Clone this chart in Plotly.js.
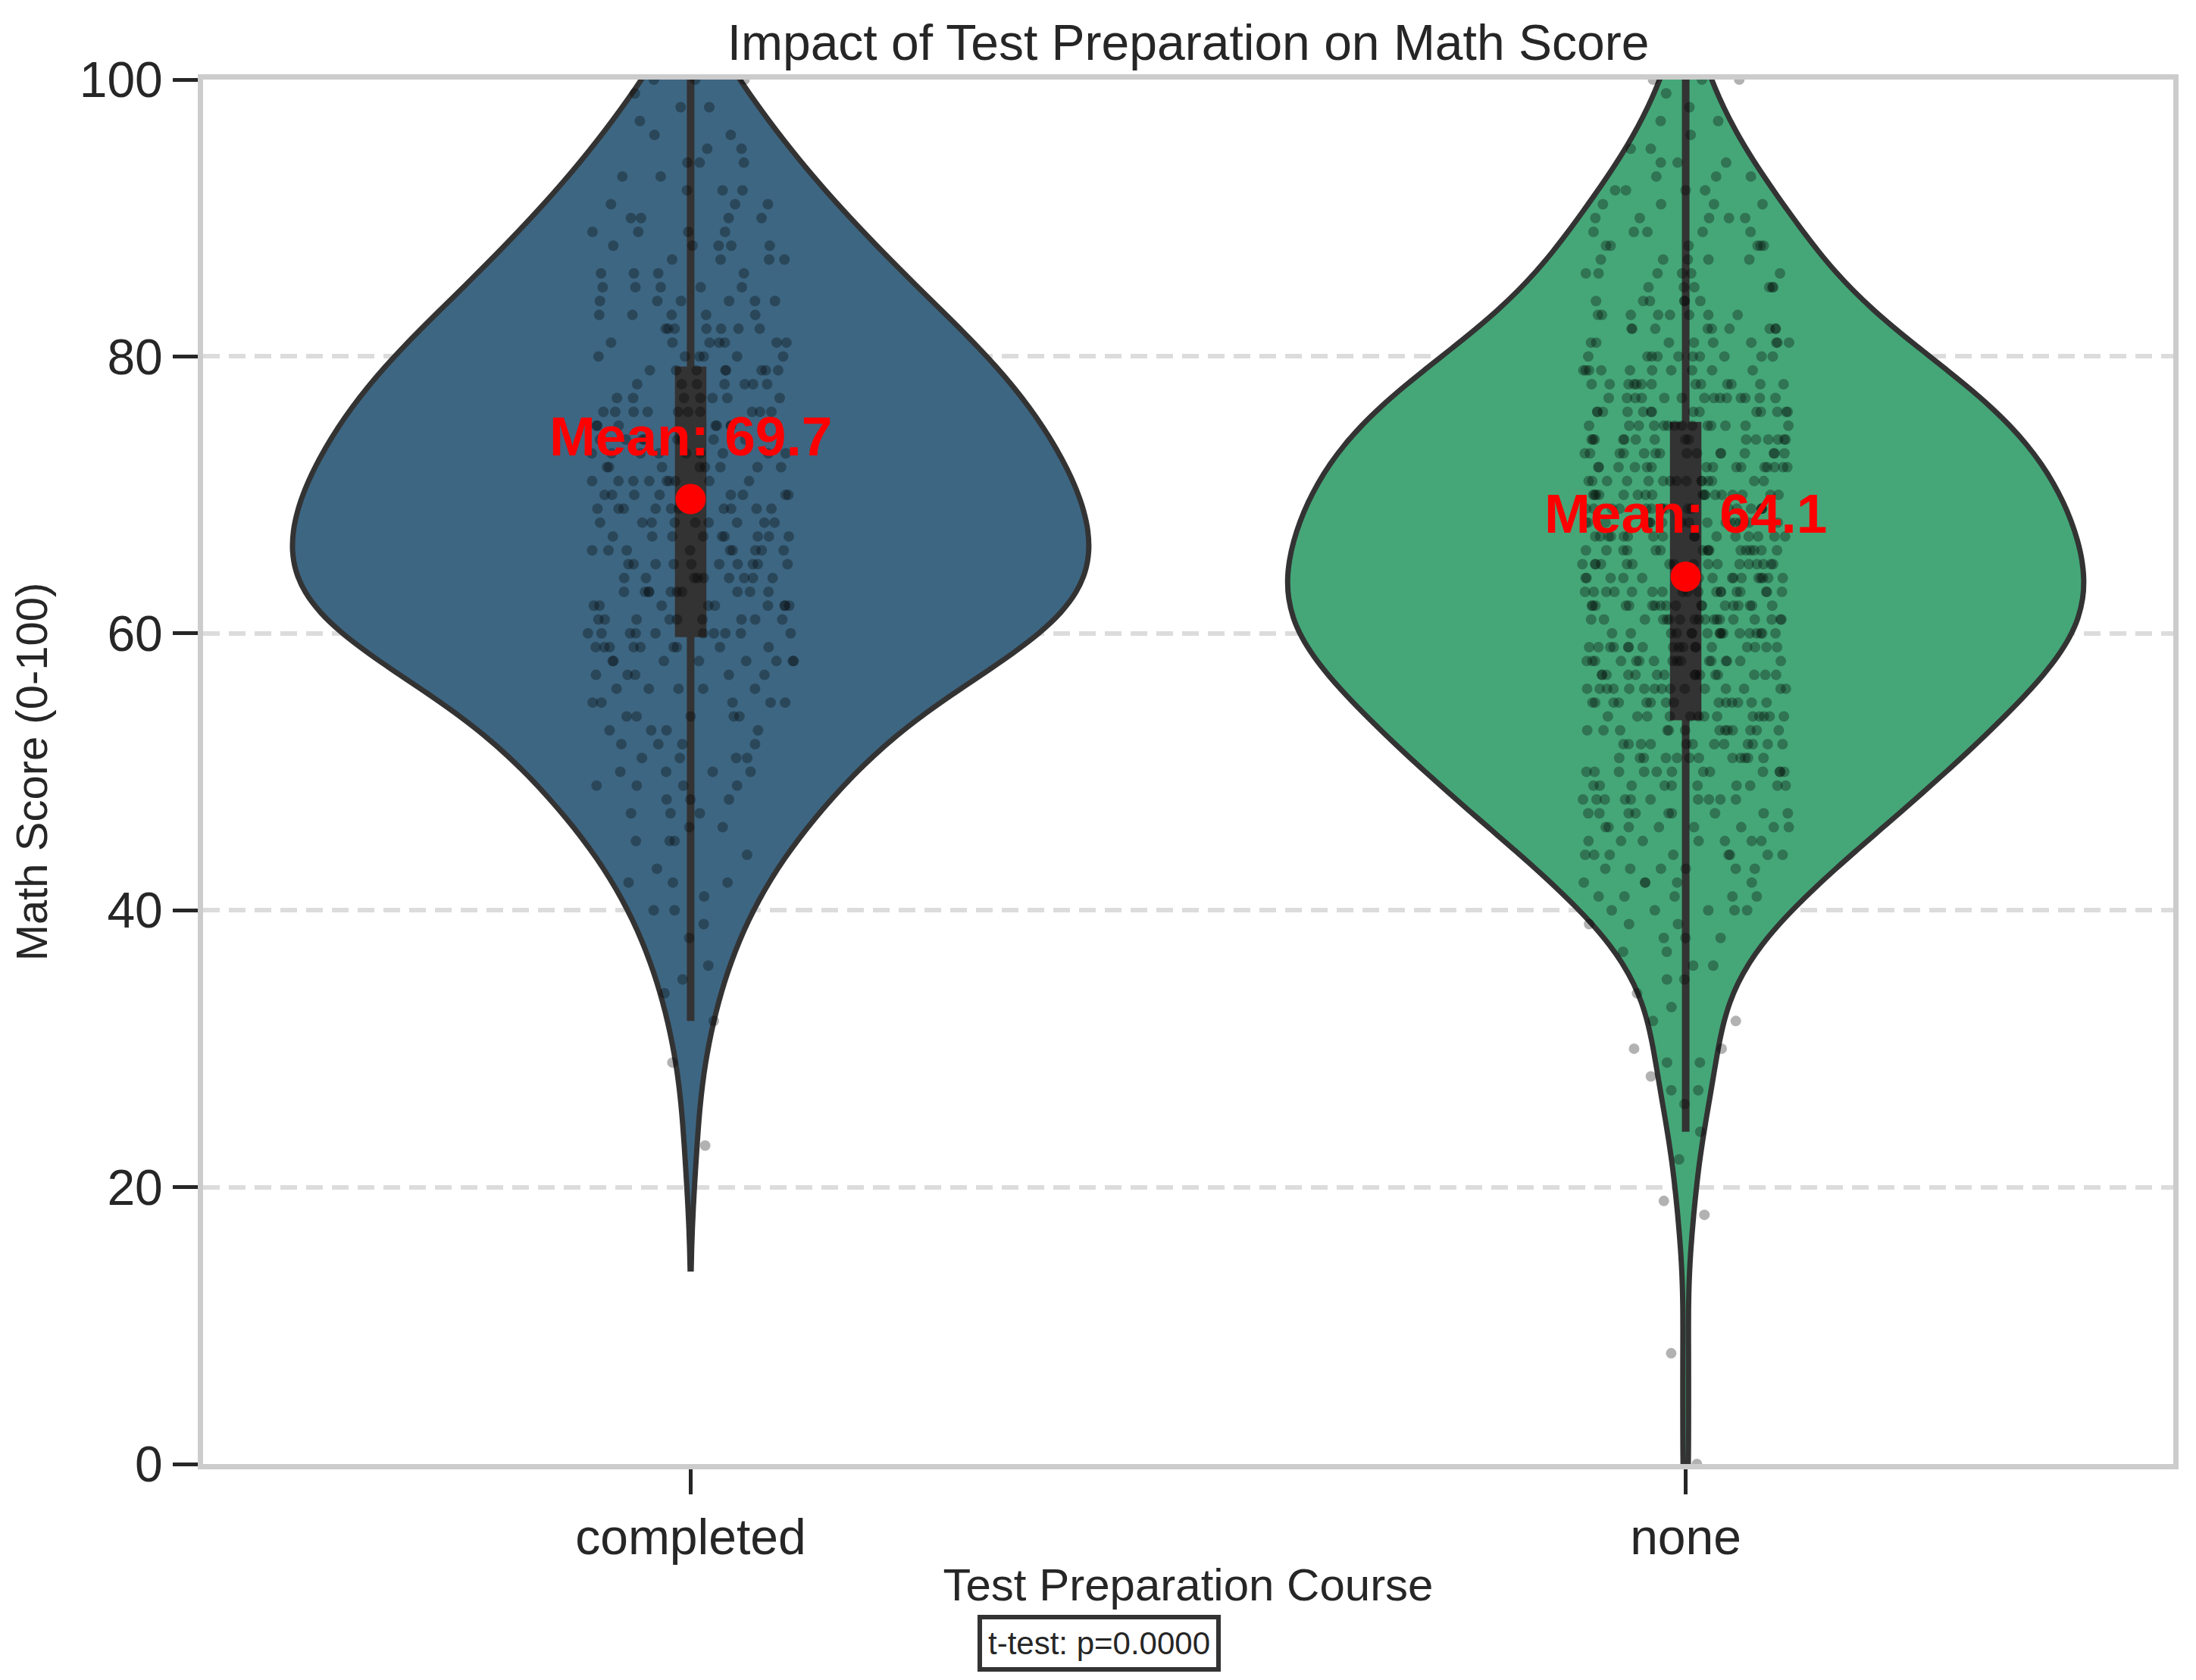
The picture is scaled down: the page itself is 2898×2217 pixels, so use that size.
<!DOCTYPE html>
<html>
<head>
<meta charset="utf-8">
<script src="https://cdn.plot.ly/plotly-3.0.1.min.js"></script>
<style>
  html, body { margin: 0; padding: 0; background: #ffffff; }
  #chart { width: 2898px; height: 2217px; }
</style>
</head>
<body>
<div id="chart"></div>
<script>
// categories on the x axis
const groups = ['completed', 'none'];

const completedScores = [23, 29, 32, 34, 35, 36, 38, 39, 40, 41, 42, 43, 44, 45, 46, 47, 48, 49,
  50, 51, 52, 53, 54, 55, 56, 57, 58, 59, 60, 61, 62, 63, 64, 65, 66, 67, 68, 69,
  70, 71, 72, 73, 74, 75, 76, 77, 78, 79, 80, 81, 82, 83, 84, 85, 86, 87, 88, 89,
  90, 91, 92, 93, 94, 95, 96, 97, 98, 99, 100];
const completedCounts = [1, 1, 1, 1, 1, 1, 1, 1, 2, 1, 3, 1, 1, 3, 2, 3, 3, 4,
  4, 4, 4, 4, 5, 5, 5, 5, 8, 9, 10, 9, 9, 10, 9, 10, 9, 9, 9, 10,
  9, 9, 8, 9, 8, 7, 10, 7, 7, 8, 6, 7, 7, 5, 6, 5, 4, 4, 5, 4,
  4, 3, 3, 2, 3, 2, 2, 1, 2, 1, 3];

const noneScores = [0, 8, 18, 19, 22, 24, 26, 27, 28, 29, 30, 32, 33, 34, 35, 36, 37, 38, 39,
  40, 41, 42, 43, 44, 45, 46, 47, 48, 49, 50, 51, 52, 53, 54, 55, 56, 57, 58, 59,
  60, 61, 62, 63, 64, 65, 66, 67, 68, 69, 70, 71, 72, 73, 74, 75, 76, 77, 78, 79,
  80, 81, 82, 83, 84, 85, 86, 87, 88, 89, 90, 91, 92, 93, 94, 95, 96, 97, 98, 99, 100];
const noneCounts = [1, 1, 1, 1, 1, 1, 1, 2, 1, 2, 2, 2, 1, 1, 2, 2, 2, 3, 3,
  5, 5, 5, 6, 8, 7, 8, 9, 10, 10, 12, 12, 12, 13, 13, 14, 15, 15, 16, 17,
  17, 18, 18, 18, 17, 17, 16, 16, 17, 17, 17, 15, 15, 15, 15, 14, 14, 14, 13, 10,
  10, 9, 9, 8, 6, 6, 6, 5, 6, 5, 5, 4, 4, 3, 3, 2, 1, 2, 1, 1, 3];

// group means and test result as printed on the chart
const meanValues = [69.7, 64.1];
const pValueText = 't-test: p=0.0000';

const FONT = 'Liberation Sans, Arial, Helvetica, sans-serif';
const fillColors = ['#3d6682', '#45a778'];
const bandwidths = [4.45, 4.2];

function expand(scores, counts) {
  let out = [];
  scores.forEach((s, i) => {
    for (let k = 0; k < counts[i]; k++) out.push(s);
  });
  return out;
}

const samples = [expand(completedScores, completedCounts), expand(noneScores, noneCounts)];

let traces = groups.map((g, i) => ({
  type: 'violin',
  name: g,
  x: samples[i].map(() => g),
  y: samples[i],
  fillcolor: fillColors[i],
  line: {color: '#333333', width: 7},
  width: 0.8,
  scalemode: 'width',
  spanmode: 'soft',
  bandwidth: bandwidths[i],
  box: {visible: true, width: 0.03, fillcolor: '#333333', line: {color: '#333333', width: 10}},
  meanline: {visible: false},
  points: 'all',
  pointpos: 0,
  jitter: 0.26,
  marker: {color: 'rgba(0,0,0,0.3)', size: 14, line: {width: 0}},
  hoverinfo: 'skip',
  showlegend: false
}));

// red mean dots
traces.push({
  type: 'scatter',
  x: groups,
  y: meanValues,
  mode: 'markers',
  marker: {color: '#ff0000', size: 40},
  hoverinfo: 'skip',
  showlegend: false
});

let annotations = groups.map((g, i) => ({
  x: g,
  y: meanValues[i] + 3,
  xref: 'x',
  yref: 'y',
  text: '<b>Mean: ' + meanValues[i].toFixed(1) + '</b>',
  showarrow: false,
  xanchor: 'center',
  yanchor: 'bottom',
  yshift: -14,
  font: {family: FONT, size: 73, color: '#ff0000'}
}));

annotations.push({
  x: (1450 - 268) / 2600,
  y: (1932 - 2168) / 1827,
  xref: 'paper',
  yref: 'paper',
  text: pValueText,
  showarrow: false,
  xanchor: 'center',
  yanchor: 'middle',
  font: {family: FONT, size: 42, color: '#262626'},
  bgcolor: '#ffffff',
  bordercolor: '#333333',
  borderwidth: 6,
  borderpad: 8
});

const axisCommon = {
  ticks: 'outside',
  ticklen: 33,
  tickwidth: 5,
  tickcolor: '#262626',
  showline: true,
  linecolor: '#cccccc',
  linewidth: 7,
  mirror: true,
  zeroline: false,
  tickfont: {family: FONT, size: 66, color: '#262626'}
};

const layout = {
  width: 2898,
  height: 2217,
  margin: {l: 268, r: 30, t: 105, b: 285},
  paper_bgcolor: '#ffffff',
  plot_bgcolor: '#ffffff',
  violinmode: 'overlay',
  showlegend: false,
  hovermode: false,
  font: {family: FONT, color: '#262626'},
  title: {
    text: 'Impact of Test Preparation on Math Score',
    font: {family: FONT, size: 66, color: '#262626'},
    x: 0.5,
    xref: 'paper',
    xanchor: 'center',
    y: 1 - 56 / 2217,
    yanchor: 'middle'
  },
  xaxis: Object.assign({}, axisCommon, {
    type: 'category',
    range: [-0.49, 1.49],
    showgrid: false,
    title: {text: 'Test Preparation Course', font: {family: FONT, size: 60, color: '#262626'}, standoff: 8}
  }),
  yaxis: Object.assign({}, axisCommon, {
    range: [0, 100],
    tickvals: [0, 20, 40, 60, 80, 100],
    showgrid: true,
    gridcolor: '#dcdcdc',
    gridwidth: 6,
    griddash: '22px,12px',
    title: {text: 'Math Score (0-100)', font: {family: FONT, size: 58, color: '#262626'}, standoff: 26}
  }),
  annotations: annotations
};

Plotly.newPlot('chart', traces, layout, {displayModeBar: false, staticPlot: true});
</script>
</body>
</html>
